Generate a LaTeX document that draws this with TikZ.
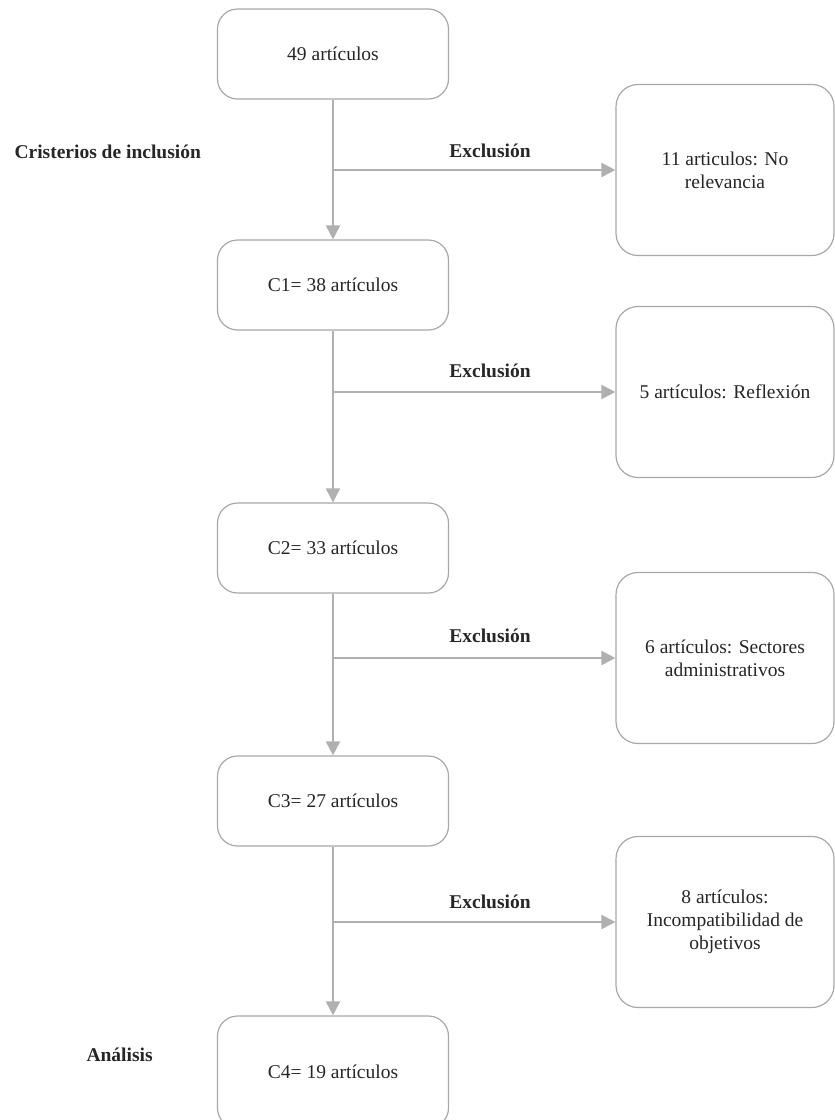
\documentclass[tikz,border=0pt]{standalone}
\usepackage{fontspec}
\setmainfont{Liberation Serif}
\usetikzlibrary{arrows.meta}
\definecolor{linegray}{HTML}{B0B0B0}
\definecolor{boxgray}{HTML}{A8A8A8}
\definecolor{txt}{HTML}{262626}
\begin{document}
\begin{tikzpicture}[x=1pt,y=-1pt,
  font=\fontsize{19.5}{23}\selectfont, text=txt,
  mainbox/.style={draw=boxgray, line width=1.2pt, rounded corners=20pt, minimum width=231pt, minimum height=90pt, inner sep=0pt},
  sidebox/.style={draw=boxgray, line width=1.2pt, rounded corners=22pt, minimum width=218pt, minimum height=171pt, align=center, inner sep=0pt},
  conn/.style={draw=linegray, line width=2pt, -{Triangle[length=14pt,width=14pt]}},
  lbl/.style={font=\fontsize{19.5}{23}\selectfont\bfseries, anchor=base}
]
\useasboundingbox (0,0) rectangle (835,1120);

% main column
\node[mainbox] (b0) at (333,54) {49 artículos};
\node[mainbox] (c1) at (333,285) {C1= 38 artículos};
\node[mainbox] (c2) at (333,548) {C2= 33 artículos};
\node[mainbox] (c3) at (333,801) {C3= 27 artículos};
\node[mainbox, minimum height=112pt] (c4) at (333,1072) {C4= 19 artículos};

% exclusion boxes
\node[sidebox] (r1) at (725,170) {11 articulos: No\\relevancia};
\node[sidebox] (r2) at (725,392) {5 artículos: Reflexión};
\node[sidebox] (r3) at (725,658) {6 artículos: Sectores\\administrativos};
\node[sidebox] (r4) at (725,922) {8 artículos:\\Incompatibilidad de\\objetivos};

% junctions
\coordinate (j1) at (b0.south |- r1.west);
\coordinate (j2) at (c1.south |- r2.west);
\coordinate (j3) at (c2.south |- r3.west);
\coordinate (j4) at (c3.south |- r4.west);

% connectors
\draw[conn] (b0.south) -- (c1.north);
\draw[conn] (c1.south) -- (c2.north);
\draw[conn] (c2.south) -- (c3.north);
\draw[conn] (c3.south) -- (c4.north);
\draw[conn] (j1) -- (r1.west);
\draw[conn] (j2) -- (r2.west);
\draw[conn] (j3) -- (r3.west);
\draw[conn] (j4) -- (r4.west);

% labels
\node[lbl] (e1) at (490,157) {Exclusión};
\node[lbl] (e2) at (490,377) {Exclusión};
\node[lbl] (e3) at (490,642) {Exclusión};
\node[lbl] (e4) at (490,908) {Exclusión};
\node[lbl, anchor=base west] (crit) at (11,158) {Cristerios de inclusión};
\node[lbl, anchor=base west] (anal) at (83,1061) {Análisis};
\end{tikzpicture}
\end{document}
